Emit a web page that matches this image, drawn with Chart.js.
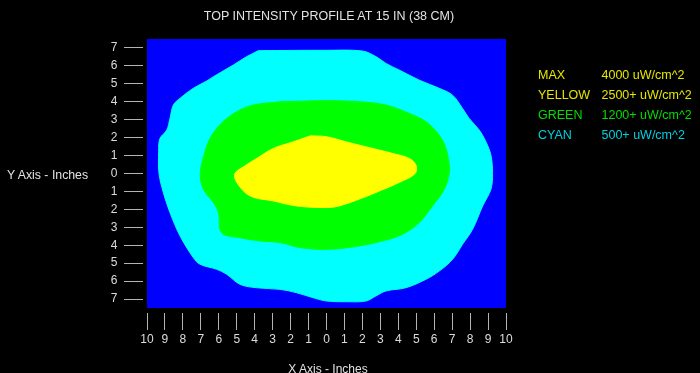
<!DOCTYPE html>
<html><head><meta charset="utf-8">
<script src="https://cdn.jsdelivr.net/npm/chart.js@4/dist/chart.umd.min.js"></script>
<style>
html,body{margin:0;padding:0;background:#000;}
#wrap{position:relative;width:700px;height:373px;overflow:hidden;background:#000;font-family:"Liberation Sans",Arial,sans-serif;}
#c{position:absolute;left:0;top:0;}
.t{position:absolute;white-space:nowrap;}
</style></head><body>
<div id="wrap"><canvas id="c" width="700" height="373"></canvas></div>
<script>
const chartTitle = 'TOP INTENSITY PROFILE AT 15 IN (38 CM)';
const xAxisTitle = 'X Axis - Inches';
const yAxisTitle = 'Y Axis - Inches';
const xTicks = [-10,-9,-8,-7,-6,-5,-4,-3,-2,-1,0,1,2,3,4,5,6,7,8,9,10];
const yTicks = [-7,-6,-5,-4,-3,-2,-1,0,1,2,3,4,5,6,7];
const legendNames = ['MAX','YELLOW','GREEN','CYAN'];
const legendValues = ['4000 uW/cm^2','2500+ uW/cm^2','1200+ uW/cm^2','500+ uW/cm^2'];

// 500+ uW/cm^2 contour (cyan)
const cyanX = [-3.8,0,2.0,2.75,3.31,4.05,5.16,6.28,7.02,7.58,7.95,8.51,8.88,9.16,9.25,9.16,8.7,8.14,7.58,7.02,6.28,5.54,4.42,3.31,2.75,2.19,1.08,0.0,-0.73,-1.66,-2.59,-3.89,-4.82,-5.56,-6.12,-7.05,-7.42,-8.16,-8.72,-9.09,-9.33,-9.35,-9.28,-8.9,-8.72,-8.53,-8.16,-7.42,-6.67,-6.3,-5.19,-4.44];
const cyanY = [6.85,6.87,6.83,6.52,6.14,5.77,5.21,4.75,4.37,3.63,3.07,2.42,1.77,1.02,0.0,-0.88,-1.81,-3.11,-3.95,-4.79,-5.44,-5.9,-6.37,-6.55,-6.83,-7.11,-7.15,-7.11,-6.93,-6.65,-6.46,-6.37,-6.18,-5.62,-5.34,-5.06,-4.69,-3.48,-2.18,-1.06,0.0,1.21,1.95,2.42,3.07,3.82,4.19,4.75,5.16,5.4,6.05,6.52];
// 1200+ uW/cm^2 contour (green)
const greenX = [-2.58,0.0,1.82,3.31,4.61,5.54,6.28,6.65,6.84,6.84,6.56,5.91,5.16,4.24,3.12,1.82,0.0,-1.47,-2.59,-3.7,-4.82,-5.84,-6.02,-6.3,-6.86,-7.03,-6.77,-6.49,-6.12,-5.56,-4.82,-4.07];
const greenY = [4.0,4.06,4.0,3.82,3.35,2.89,2.14,1.4,0.5,0.0,-0.88,-1.81,-2.74,-3.39,-3.76,-4.04,-4.23,-4.13,-3.85,-3.76,-3.58,-3.3,-2.18,-1.62,-0.88,0.0,1.21,1.95,2.51,3.07,3.54,3.82];
// 2500+ uW/cm^2 contour (yellow)
const yellowX = [-0.9,0.0,1.08,2.19,3.68,4.61,4.98,4.94,4.05,2.75,1.82,0.7,0.0,-1.66,-2.96,-4.26,-5.0,-5.1,-4.63,-3.89,-2.96,-1.84];
const yellowY = [2.1,2.05,1.77,1.49,1.12,0.84,0.47,0.0,-0.5,-1.06,-1.43,-1.81,-1.9,-1.81,-1.53,-1.25,-0.5,0.0,0.37,0.84,1.4,1.77];

function ring(xs, ys) {
  const p = xs.map((x, i) => ({x: x, y: ys[i]}));
  p.push({x: xs[0], y: ys[0]});
  return p;
}

const wrap = document.getElementById('wrap');
function addText(txt, css) {
  const d = document.createElement('div');
  d.className = 't';
  d.textContent = txt;
  Object.assign(d.style, css);
  wrap.appendChild(d);
}
addText(chartTitle, {left: '0px', width: '658px', textAlign: 'center', top: '8px', lineHeight: '16px', fontSize: '12.5px', color: '#e2e2e2'});
addText(yAxisTitle, {left: '7px', top: '167px', lineHeight: '16px', fontSize: '12.3px', color: '#e2e2e2'});
addText(xAxisTitle, {left: '0px', width: '656px', textAlign: 'center', top: '360.5px', lineHeight: '16px', fontSize: '12px', color: '#e2e2e2'});
const legendColors = ['#e6e600', '#e6e600', '#00dd00', '#00cfe0'];
legendNames.forEach((n, i) => {
  const top = (66.5 + i * 20.2) + 'px';
  addText(n, {left: '538px', top: top, lineHeight: '16px', fontSize: '12.5px', color: legendColors[i]});
  addText(legendValues[i], {left: '601.5px', top: top, lineHeight: '16px', fontSize: '12.5px', color: legendColors[i]});
});

const plotBg = {
  id: 'plotBg',
  beforeDatasetsDraw(chart) {
    const a = chart.chartArea, ctx = chart.ctx;
    ctx.save();
    ctx.fillStyle = '#0000ff';
    ctx.fillRect(a.left, a.top, a.right - a.left, a.bottom - a.top);
    ctx.restore();
  }
};

const tickFont = {family: '"Liberation Sans", Arial, sans-serif', size: 12};
const contour = (xs, ys, col) => ({
  data: ring(xs, ys), showLine: true, fill: 'shape', backgroundColor: col, borderColor: col,
  borderWidth: 1, pointRadius: 0, tension: 0.35
});

new Chart(document.getElementById('c'), {
  type: 'scatter',
  data: {
    datasets: [
      contour(yellowX, yellowY, '#ffff00'),
      contour(greenX, greenY, '#00ff00'),
      contour(cyanX, cyanY, '#00ffff')
    ]
  },
  options: {
    responsive: false,
    animation: false,
    devicePixelRatio: 1,
    layout: {padding: {left: 97, top: 39, right: 194, bottom: 0}},
    plugins: {legend: {display: false}, tooltip: {enabled: false}, title: {display: false}},
    scales: {
      x: {
        type: 'linear', min: -10, max: 10,
        afterFit(s) { s.height = 65; },
        afterBuildTicks(s) { s.ticks = xTicks.map(v => ({value: v})); },
        ticks: {color: '#dcdcdc', font: tickFont, padding: 2, autoSkip: false, maxRotation: 0,
                callback: v => String(Math.abs(v))},
        grid: {drawOnChartArea: false, tickLength: 22, tickColor: '#b4b4b4', tickWidth: 1,
               tickBorderDash: [17, 5], tickBorderDashOffset: 17},
        border: {display: false}
      },
      y: {
        type: 'linear', min: -7.5, max: 7.5,
        afterFit(s) { s.width = 50; },
        afterBuildTicks(s) { s.ticks = yTicks.map(v => ({value: v})); },
        ticks: {color: '#dcdcdc', font: tickFont, padding: 6.5, autoSkip: false,
                callback: v => String(Math.abs(v))},
        grid: {drawOnChartArea: false, tickLength: 23, tickColor: '#b4b4b4', tickWidth: 1,
               tickBorderDash: [19, 5], tickBorderDashOffset: 0},
        border: {display: false}
      }
    }
  },
  plugins: [plotBg]
});
</script>
</body></html>
